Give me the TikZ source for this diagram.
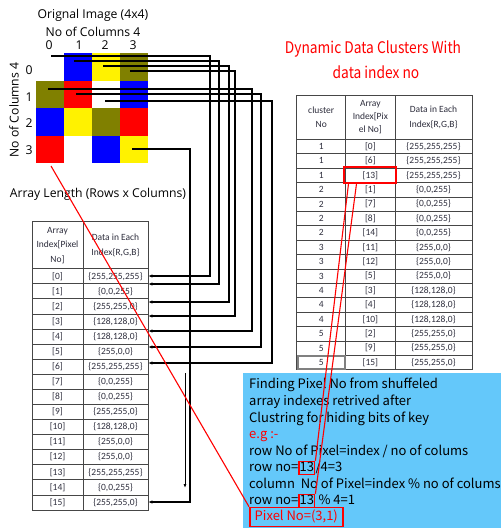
\documentclass[tikz,border=0pt]{standalone}
\usepackage{fontspec}
\setmainfont{Open Sans}
\newfontfamily\tabf{Carlito}
\newfontfamily\jpf{Noto Sans CJK JP}
\usetikzlibrary{arrows.meta,calc}
\definecolor{olv}{RGB}{128,128,0}
\definecolor{sky}{RGB}{100,200,250}
\definecolor{tline}{RGB}{70,70,70}
\definecolor{ttext}{RGB}{45,45,60}
\begin{document}
\begin{tikzpicture}[x=1pt,y=-1pt,
  pixcell/.style={minimum width=28pt,minimum height=27.5pt,inner sep=0pt,draw=none},
  lbl/.style={font=\fontsize{12.2}{14}\selectfont,inner sep=0pt},
  tcell/.style={draw=tline,line width=0.8pt,inner sep=0pt,text=ttext,align=center,font=\tabf\fontsize{9.5}{14.5}\selectfont},
  conn/.style={line width=1.3pt,-{Latex[length=4pt,width=3.5pt]}},
  redln/.style={red,line width=1.1pt},
  bx/.style={inner sep=0pt,anchor=west,text height=9.5pt,text depth=2.5pt,font=\jpf\fontsize{13}{15}\selectfont},
  ttl/.style={red,font=\jpf\fontsize{16}{18}\selectfont,inner sep=0pt}
]
\useasboundingbox (0,0) rectangle (501,528);
% ---------- original image grid ----------
\node[lbl] (t1) at (93,15) {Orignal Image (4x4)};
\node[lbl] (t2) at (93,32) {No of Columns 4};
\node[lbl,rotate=90] (t3) at (14,110) {No of Columns 4};
\foreach \j/\xx in {0/49,1/79,2/105,3/133}{\node[lbl] (ch\j) at (\xx,45) {\j};}
\foreach \j/\yy in {0/70,1/97,2/123,3/150}{\node[lbl] (rh\j) at (29,\yy) {\j};}
\foreach \k/\col in {0/white,1/blue,2/yellow,3/olv,4/olv,5/red,6/white,7/blue,8/blue,9/yellow,10/olv,11/red,12/red,13/white,14/blue,15/yellow}{
  \pgfmathtruncatemacro{\r}{\k/4}
  \pgfmathtruncatemacro{\c}{mod(\k,4)}
  \node[pixcell,fill=\col] (c\k) at ({50+28*\c},{66.75+27.5*\r}) {};
}
% ---------- left table ----------
\node[lbl] (alen) at (98,194) {Array Length (Rows x Columns)};
\node[tcell,minimum width=51pt,minimum height=47pt] (LhA) at (57.5,245.2) {Array\\Index[Pixel\\No]};
\node[tcell,minimum width=65pt,minimum height=47pt] (LhB) at (115.5,245.2) {Data in Each\\Index\{R,G,B\}};
\foreach \i/\v in {0/{255,255,255},1/{0,0,255},2/{255,255,0},3/{128,128,0},4/{128,128,0},5/{255,0,0},6/{255,255,255},7/{0,0,255},8/{0,0,255},9/{255,255,0},10/{128,128,0},11/{255,0,0},12/{255,0,0},13/{255,255,255},14/{0,0,255},15/{255,255,0}}{
  \node[tcell,minimum width=51pt,minimum height=15.08pt] (La\i) at (57.5,{268.7+15.08*\i+7.54}) {[\i]};
  \node[tcell,minimum width=65pt,minimum height=15.08pt] (Lb\i) at (115.5,{268.7+15.08*\i+7.54}) {\{\v\}};
}
% ---------- connectors image -> table ----------
\foreach \i/\sx/\sy/\vx/\ey in {0/51/56/210/276,1/74/61/219/284,2/103/66/229/302,3/130/71/235/316,4/48/89/252/331,5/76/94/261/347,6/105/101/272/363,15/132/149/190/502}{
  \coordinate (s\i) at (\sx,\sy);
  \coordinate (e\i) at (\vx,\ey);
  \draw[conn] (s\i) -| (e\i) -- (Lb\i.east |- e\i);
}
\coordinate (da) at (185,373);
\coordinate (db) at (185,488);
\draw[line width=1pt,-{Latex[length=4pt,width=3pt]}] (da) -- (db);
% ---------- title ----------
\node[ttl] (ti1) at (373,49) {\scalebox{0.86}[1]{Dynamic Data Clusters With}};
\node[ttl] (ti2) at (376,72) {\scalebox{0.86}[1]{data index no}};
% ---------- right table ----------
\node[tcell,minimum width=49pt,minimum height=44.3pt] (RhA) at (321.2,117.15) {cluster\\No};
\node[tcell,minimum width=49.3pt,minimum height=44.3pt,font=\tabf\fontsize{9.5}{13}\selectfont] (RhB) at (370.35,117.15) {Array\\Index[Pix\\el No]};
\node[tcell,minimum width=77pt,minimum height=44.3pt] (RhC) at (433.5,117.15) {Data in Each\\Index\{R,G,B\}};
\foreach \i/\cl/\ix/\v in {0/1/0/{255,255,255},1/1/6/{255,255,255},2/1/13/{255,255,255},3/2/1/{0,0,255},4/2/7/{0,0,255},5/2/8/{0,0,255},6/2/14/{0,0,255},7/3/11/{255,0,0},8/3/12/{255,0,0},9/3/5/{255,0,0},10/4/3/{128,128,0},11/4/4/{128,128,0},12/4/10/{128,128,0},13/5/2/{255,255,0},14/5/9/{255,255,0},15/5/15/{255,255,0}}{
  \node[tcell,minimum width=49pt,minimum height=14.4pt] (Ra\i) at (321.2,{139.3+14.4*\i+7.2}) {\cl};
  \node[tcell,minimum width=49.3pt,minimum height=14.4pt] (Rb\i) at (370.35,{139.3+14.4*\i+7.2}) {[\ix]};
  \node[tcell,minimum width=77pt,minimum height=14.4pt] (Rc\i) at (433.5,{139.3+14.4*\i+7.2}) {\{\v\}};
}
\node[draw=gray,line width=1.6pt,minimum width=47pt,minimum height=13pt,inner sep=0pt] (sel) at (Ra15) {};
\node[draw=red,line width=1.8pt,minimum width=52pt,minimum height=16pt,inner sep=0pt] (hl) at (Rb2) {};
% ---------- blue box ----------
\fill[sky] (243,373) rectangle (501,528);
\node[bx] (b1) at (249,385) {Finding Pixel No from shuffeled};
\node[bx] (b2) at (249,402) {array indexes retrived after};
\node[bx] (b3) at (249,419) {Clustring for hiding bits of key};
\node[bx,red] (b4) at (249,435) {e.g :-};
\node[bx] (b5) at (249,452) {row No of Pixel=index / no of colums};
\node[bx] (b6a) at (249,468) {row no=};
\node[bx,draw=red,line width=1.5pt,inner sep=0.5pt] (n13a) at (b6a.east) {13};
\node[bx] (b6b) at (n13a.east) {/4=3};
\node[bx] (b7) at (249,485) {column\ \ No of Pixel=index \% no of colums};
\node[bx] (b8a) at (249,501) {row no=};
\node[bx,draw=red,line width=1.5pt,inner sep=0.5pt] (n13b) at (b8a.east) {13};
\node[bx] (b8b) at (n13b.east) {\ \% 4=1};
\node[bx,red,draw=red,line width=1.6pt,inner sep=1.5pt,minimum width=93pt,minimum height=19pt,align=left] (pix) at (249,517) {Pixel No=(3,1)};
% ---------- red connectors ----------
\coordinate (rs) at (51,166);
\draw[redln] (rs) -- (pix.north west);
\draw[redln] ($(hl.south west)+(5,0)$) -- (n13a.north east);
\draw[redln] ($(hl.south west)+(13,0)$) -- (n13b.north east);
\end{tikzpicture}
\end{document}
